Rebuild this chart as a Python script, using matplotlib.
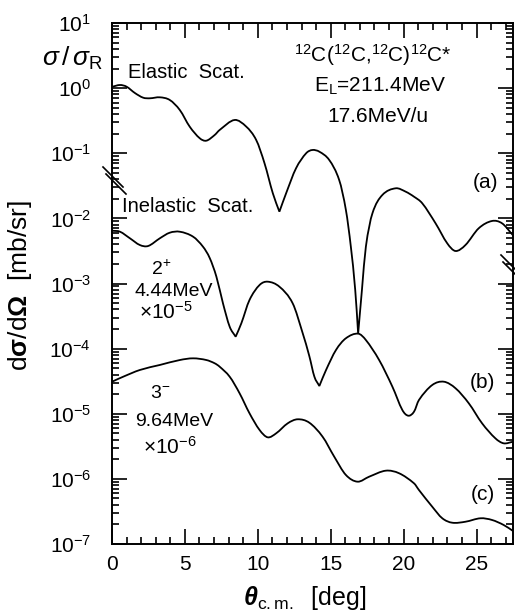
import numpy as np
import matplotlib
matplotlib.use("Agg")
import matplotlib.pyplot as plt
from matplotlib.path import Path
from matplotlib.patches import PathPatch
from matplotlib.lines import Line2D

plt.rcParams['font.family'] = ['Liberation Sans', 'DejaVu Sans']
plt.rcParams['mathtext.fontset'] = 'custom'
plt.rcParams['mathtext.rm'] = 'Liberation Sans'
plt.rcParams['mathtext.it'] = 'Liberation Sans:italic'
plt.rcParams['mathtext.bf'] = 'Liberation Sans:bold'
try:
    plt.rcParams['mathtext.bfit'] = 'Liberation Sans:bold:italic'
except Exception:
    pass

# ---------------- data (theta in deg, log10 of plotted value) ----------------
theta_a = [0.0, 0.55, 1.0, 1.57, 2.14, 2.60, 3.28, 3.96, 4.65, 5.33, 6.02, 6.47,
           7.04, 7.38, 8.41, 9.21, 9.89, 10.46, 11.03, 11.48, 11.94, 12.62, 13.31,
           13.74, 14.22, 14.90, 15.58, 16.04, 16.38, 16.68, 16.88, 17.14, 17.41,
           17.86, 18.54, 19.46, 20.14, 20.71, 21.28, 22.19, 22.99, 23.56, 24.24,
           25.15, 26.06, 26.75, 27.5]
log_a = [0.02, 0.048, 0.022, -0.075, -0.147, -0.156, -0.141, -0.182, -0.336, -0.592,
         -0.770, -0.807, -0.720, -0.643, -0.489, -0.592, -0.797, -1.154, -1.615,
         -1.897, -1.615, -1.231, -1.001, -0.950, -0.976, -1.104, -1.411, -1.871,
         -2.435, -3.100, -3.770, -3.100, -2.435, -1.922, -1.641, -1.538, -1.590,
         -1.667, -1.769, -2.076, -2.383, -2.501, -2.409, -2.152, -2.040, -2.076, -2.26]
sharp_a = [11.48, 16.88]

theta_b = [0.0, 0.55, 1.23, 1.91, 2.48, 3.28, 3.96, 4.65, 5.56, 6.24, 6.70, 7.16,
           7.61, 8.07, 8.48, 8.87, 9.43, 10.12, 10.68, 11.48, 12.39, 13.08, 13.53,
           13.88, 14.22, 14.68, 15.36, 16.04, 16.88, 17.41, 18.32, 19.23, 19.91,
           20.32, 20.71, 21.05, 21.96, 22.76, 23.56, 24.47, 25.38, 26.29, 26.86, 27.5]
log_b = [-2.189, -2.205, -2.306, -2.409, -2.424, -2.306, -2.220, -2.205, -2.281,
         -2.435, -2.608, -2.896, -3.304, -3.663, -3.817, -3.611, -3.253, -3.023,
         -2.972, -3.049, -3.304, -3.765, -4.113, -4.431, -4.574, -4.328, -4.021,
         -3.841, -3.770, -3.868, -4.175, -4.585, -4.942, -5.030, -4.969, -4.789,
         -4.559, -4.508, -4.609, -4.840, -5.147, -5.377, -5.454, -5.43]
sharp_b = [8.48, 14.22]

theta_c = [0.0, 0.77, 1.91, 3.28, 4.65, 5.56, 6.47, 7.04, 7.38, 8.07, 8.75, 9.43,
           10.12, 10.68, 11.26, 12.05, 12.73, 13.53, 14.44, 15.24, 16.04, 16.84,
           17.63, 18.78, 19.69, 20.71, 21.05, 21.96, 22.65, 23.33, 24.24, 25.27,
           26.06, 26.86, 27.5]
log_c = [-4.508, -4.431, -4.328, -4.251, -4.175, -4.149, -4.175, -4.225, -4.277,
         -4.431, -4.686, -4.993, -5.249, -5.362, -5.300, -5.147, -5.085, -5.137,
         -5.352, -5.659, -5.940, -6.043, -5.967, -5.874, -5.914, -6.068, -6.171,
         -6.427, -6.605, -6.673, -6.658, -6.605, -6.631, -6.708, -6.80]
sharp_c = []

x_ticks = [0, 5, 10, 15, 20, 25]
x_lim = (0, 27.5)
y_lim = (1e-7, 1e1)


def smooth_path(t, ly, sharp_t):
    t = np.asarray(t, float)
    y = np.asarray(ly, float)
    n = len(t)
    sharp = {int(np.argmin(np.abs(t - s))) for s in sharp_t}
    sec = np.diff(y) / np.diff(t)
    m = np.empty(n)
    m[0], m[-1] = sec[0], sec[-1]
    m[1:-1] = (y[2:] - y[:-2]) / (t[2:] - t[:-2])
    verts = [(t[0], y[0])]
    codes = [Path.MOVETO]
    for i in range(n - 1):
        h = t[i + 1] - t[i]
        m0 = sec[i] if i in sharp else m[i]
        m1 = sec[i] if (i + 1) in sharp else m[i + 1]
        verts += [(t[i] + h / 3, y[i] + m0 * h / 3),
                  (t[i + 1] - h / 3, y[i + 1] - m1 * h / 3),
                  (t[i + 1], y[i + 1])]
        codes += [Path.CURVE4] * 3
    v = np.array(verts)
    v[:, 1] = 10.0 ** v[:, 1]
    return Path(v, codes)


fig = plt.figure(figsize=(5.15, 6.16), dpi=100)
ax = fig.add_axes([112 / 515, 1 - 544 / 616, 401 / 515, 521 / 616])
ax.set_yscale('log')
ax.set_xlim(*x_lim)
ax.set_ylim(*y_lim)

for t, ly, sh in [(theta_a, log_a, sharp_a), (theta_b, log_b, sharp_b), (theta_c, log_c, sharp_c)]:
    ax.add_patch(PathPatch(smooth_path(t, ly, sh), fill=False, lw=1.3, edgecolor='black'))

ax.set_xticks(x_ticks)
ax.set_xticks(np.arange(0, 28, 1), minor=True)
ax.set_yticks([10.0 ** k for k in range(-7, 2)])
ax.tick_params(which='both', direction='in', top=True, right=True, width=1.2)
ax.tick_params(which='major', length=11, labelsize=15)
ax.tick_params(which='minor', length=5)
ax.tick_params(axis='x', pad=8)
ax.tick_params(axis='y', pad=15)
for s in ax.spines.values():
    s.set_linewidth(1.4)

# axis labels
fig.text(20 / 515, 1 - 285 / 616, r'd$\mathbf{\sigma}$/d$\mathbf{\Omega}$  [mb/sr]',
         rotation=90, ha='center', va='center', fontsize=19)
fig.text(305 / 515, 1 - 598 / 616, r'$\mathbfit{\theta}_{\rm c.m.}$  [deg]',
         ha='center', va='center', fontsize=18)

# annotations
def ftext(x, y, s, **kw):
    kw.setdefault('ha', 'center')
    kw.setdefault('va', 'center')
    fig.text(x / 515, 1 - y / 616, s, **kw)

ftext(72, 58, r'$\sigma\,/\,\sigma_{\mathrm{R}}$', fontsize=19)
ftext(128, 72, 'Elastic  Scat.', ha='left', fontsize=14.5)
ftext(373, 55, r'$^{12}$C($^{12}$C,$^{12}$C)$^{12}$C*', fontsize=15)
ftext(380, 86, r'E$_{\mathrm{L}}$=211.4MeV', fontsize=15)
ftext(378, 117, '17.6MeV/u', fontsize=15)
ftext(485, 182, '(a)', fontsize=15)
ftext(122, 207, 'Inelastic  Scat.', ha='left', fontsize=14.5)
ftext(161, 269, r'2$^{+}$', fontsize=14)
ftext(174, 291, '4.44MeV', fontsize=14)
ftext(166, 312, r'$\times$10$^{-5}$', fontsize=15)
ftext(482, 382, '(b)', fontsize=15)
ftext(160, 394, r'3$^{-}$', fontsize=14)
ftext(174, 422, '9.64MeV', fontsize=14)
ftext(170, 447, r'$\times$10$^{-6}$', fontsize=15)
ftext(483, 494, '(c)', fontsize=15)

# axis break marks (figure pixel positions)
def fline(x0, y0, x1, y1):
    fig.add_artist(Line2D([x0 / 515, x1 / 515], [1 - y0 / 616, 1 - y1 / 616],
                          transform=fig.transFigure, color='black', lw=1.2))

fline(103, 167, 123, 187)
fline(106, 174, 126, 194)
fline(501, 255, 515, 269)
fline(503, 262, 515, 274)

fig.savefig('out.png', dpi=100)
